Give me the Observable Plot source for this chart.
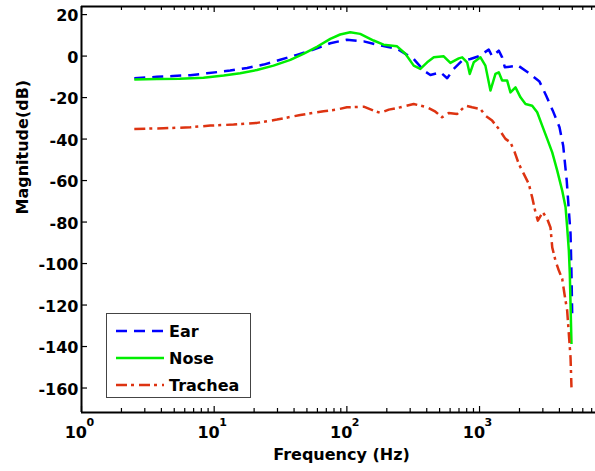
<!DOCTYPE html>
<html>
<head>
<meta charset="utf-8">
<script src="https://cdn.jsdelivr.net/npm/d3@7"></script>
<script src="https://cdn.jsdelivr.net/npm/@observablehq/plot@0.6"></script>
<style>
  html, body { margin: 0; padding: 0; background: #fff; }
  #wrap { position: relative; width: 595px; height: 471px; overflow: hidden; }
  #legend { position: absolute; left: 106px; top: 313px; width: 143px; height: 83px;
            border: 1.5px solid #444; background: #fff; }
  #legend text { font-family: "DejaVu Sans", sans-serif; font-weight: bold; font-size: 16px; }
</style>
</head>
<body>
<div id="wrap"></div>
<script>
// ---- data ----
const seriesNames = ["Ear", "Nose", "Trachea"];
const seriesColors = ["#0000ff", "#00ee00", "#dd3311"];
const seriesDash = ["11,7", null, "11,4,3,5"];

const earFreq = [2.5, 3.7, 4.9, 6.6, 8.8, 13.2, 17.7, 23.6, 31.5, 42, 56, 75, 100, 134, 179, 239, 319, 380, 426, 507, 570, 639, 739, 853, 986, 1173, 1244, 1396, 1480, 1550, 1810, 1923, 2307, 2830, 3180, 3565, 4005, 4270, 4540, 4710, 4850, 4930, 4990];
const earDb   = [-10.7, -10.0, -9.6, -9.2, -8.3, -7.0, -5.7, -4.1, -1.8, 0.6, 3.1, 6.2, 7.9, 7.1, 5.1, 3.5, -1.4, -7.0, -9.1, -7.8, -10.7, -6.2, -2.2, -1.4, -0.1, 3.1, -0.1, 2.6, -0.6, -5.4, -4.9, -4.3, -7.8, -12.3, -19.1, -26.3, -34.3, -43.2, -60, -74.5, -85.6, -104.9, -124];

const noseFreq = [2.5, 3.7, 5.5, 8.3, 11.8, 15.7, 21, 28, 37.5, 47, 60, 75, 89, 106, 126, 159, 189, 239, 276, 319, 358, 403, 452, 537, 603, 697, 740, 806, 844, 904, 1016, 1107, 1208, 1318, 1396, 1480, 1615, 1710, 1866, 2035, 2220, 2493, 2720, 2965, 3235, 3530, 3850, 4200, 4450, 4575, 4710, 4790, 4850, 4930];
const noseDb   = [-11.3, -11.0, -10.9, -10.4, -9.4, -8.3, -6.7, -4.6, -1.8, 1.1, 4.6, 8.3, 10.4, 11.5, 10.7, 7.5, 5.5, 4.7, 1.1, -4.6, -6.2, -3.0, -0.6, -0.1, -3.3, -1.1, -0.6, -3.0, -8.6, -3.0, -0.6, -4.6, -16.6, -8.6, -7.8, -11.8, -11.8, -17.5, -15.1, -19.9, -23.1, -23.9, -27.1, -33.5, -39.9, -46.4, -55.2, -64.9, -72.9, -82.6, -93.8, -105, -119.5, -138.8];

const tracheaFreq = [2.5, 4.15, 6.6, 9.35, 14, 21, 29.7, 44.6, 66.8, 84, 100, 134, 159, 179, 207, 253, 319, 403, 465, 522, 586, 678, 783, 879, 1016, 1107, 1244, 1396, 1567, 1710, 1842, 1977, 2155, 2350, 2493, 2640, 2750, 2997, 3235, 3425, 3530, 3735, 3960, 4200, 4365, 4575, 4710, 4850, 4930];
const tracheaDb   = [-35.1, -34.8, -34.3, -33.5, -33.0, -32.2, -30.6, -28.4, -26.6, -25.8, -24.7, -24.4, -26.3, -27.4, -25.8, -24.7, -23.1, -24.7, -26.8, -29.5, -27.4, -27.9, -23.9, -24.7, -25.5, -28.7, -31.1, -35.1, -39.9, -41.6, -46.4, -52.0, -56.8, -61.6, -68.1, -75.3, -79.3, -75.3, -78.5, -82.6, -92.2, -98.6, -103.4, -107.4, -114.7, -122.7, -134, -145.2, -159.7];

const xMajorTicks = [1, 10, 100, 1000];
const xMajorExponents = ["0", "1", "2", "3"];
const xMinorTicks = [2,3,4,5,6,7,8,9, 20,30,40,50,60,70,80,90, 200,300,400,500,600,700,800,900, 2000,3000,4000,5000,6000,7000];
const yTicks = [20, 0, -20, -40, -60, -80, -100, -120, -140, -160];

// ---- layout ----
const W = 595, H = 471;
const mL = 81, mT = 6, mB = 59, mR = 0;
const xDomain = [1, 7480];
const yDomain = [-171.8, 23.9];
const pxPerDb = (H - mT - mB) / (yDomain[1] - yDomain[0]);
const pxPerDecade = (W - mL - mR) / Math.log10(xDomain[1] / xDomain[0]);
const dyPx = px => px / pxPerDb;
const xMul = px => Math.pow(10, px / pxPerDecade);

const toRows = (f, v, name) => f.map((d, i) => ({f: d, db: v[i], name}));
const series = [
  toRows(earFreq, earDb, "Ear"),
  toRows(noseFreq, noseDb, "Nose"),
  toRows(tracheaFreq, tracheaDb, "Trachea")
];

const font = {fontFamily: "DejaVu Sans, sans-serif", fontWeight: "bold"};

const marks = [];
// ticks (inward)
marks.push(Plot.ruleX(xMajorTicks, {x: d => d, y1: yDomain[0], y2: yDomain[0] + dyPx(6), stroke: "black", strokeWidth: 1.2}));
marks.push(Plot.ruleX(xMinorTicks, {x: d => d, y1: yDomain[0], y2: yDomain[0] + dyPx(4), stroke: "black", strokeWidth: 1.2}));
marks.push(Plot.ruleX(xMajorTicks, {x: d => d, y1: yDomain[1], y2: yDomain[1] - dyPx(6), stroke: "black", strokeWidth: 1.2}));
marks.push(Plot.ruleX(xMinorTicks, {x: d => d, y1: yDomain[1], y2: yDomain[1] - dyPx(4), stroke: "black", strokeWidth: 1.2}));
marks.push(Plot.ruleY(yTicks, {y: d => d, x1: xDomain[0], x2: xDomain[0] * xMul(6), stroke: "black", strokeWidth: 1.2}));
// frame (left, top, bottom)
marks.push(Plot.ruleX([xDomain[0]], {stroke: "black", strokeWidth: 2}));
marks.push(Plot.ruleY([yDomain[0], yDomain[1]], {stroke: "black", strokeWidth: 2}));
// series
series.forEach((rows, i) => {
  marks.push(Plot.line(rows, {x: "f", y: "db", stroke: seriesColors[i], strokeWidth: 2.5,
    strokeDasharray: seriesDash[i] || undefined, strokeLinecap: "butt", strokeLinejoin: "round"}));
});
// y tick labels
marks.push(Plot.text(yTicks, {x: xDomain[0], y: d => d, text: d => String(d), textAnchor: "end", dx: -3, dy: 1.5, fontSize: 16, ...font}));
// x tick labels 10^n
marks.push(Plot.text(xMajorTicks, {x: d => d, frameAnchor: "bottom", text: () => "10", textAnchor: "end", dx: 5.5, dy: 25, fontSize: 16, ...font}));
marks.push(Plot.text(xMajorTicks, {x: d => d, frameAnchor: "bottom", text: (d, i) => xMajorExponents[i], textAnchor: "start", dx: 5, dy: 13, fontSize: 11, ...font}));
// axis titles
marks.push(Plot.text(["Frequency (Hz)"], {frameAnchor: "bottom", text: d => d, dx: 3, dy: 47, fontSize: 16, ...font}));
marks.push(Plot.text(["Magnitude(dB)"], {frameAnchor: "left", text: d => d, rotate: -90, dx: -59, dy: 5, fontSize: 16, ...font}));

const chart = Plot.plot({
  width: W, height: H,
  marginLeft: mL, marginTop: mT, marginBottom: mB, marginRight: mR,
  x: {type: "log", domain: xDomain, axis: null},
  y: {domain: yDomain, axis: null},
  style: {fontFamily: "DejaVu Sans, sans-serif", background: "#fff", overflow: "visible"},
  marks
});
const wrap = document.getElementById("wrap");
wrap.appendChild(chart);

// legend overlay
const ns = "http://www.w3.org/2000/svg";
const leg = document.createElement("div");
leg.id = "legend";
const lsvg = document.createElementNS(ns, "svg");
lsvg.setAttribute("width", 143); lsvg.setAttribute("height", 83);
const rowsY = [17, 44, 71];
seriesNames.forEach((name, i) => {
  const ln = document.createElementNS(ns, "line");
  ln.setAttribute("x1", 9); ln.setAttribute("x2", 57);
  ln.setAttribute("y1", rowsY[i]); ln.setAttribute("y2", rowsY[i]);
  ln.setAttribute("stroke", seriesColors[i]); ln.setAttribute("stroke-width", 2.5);
  if (seriesDash[i]) ln.setAttribute("stroke-dasharray", seriesDash[i]);
  lsvg.appendChild(ln);
  const t = document.createElementNS(ns, "text");
  t.setAttribute("x", 62); t.setAttribute("y", rowsY[i] + 6);
  t.textContent = name;
  lsvg.appendChild(t);
});
leg.appendChild(lsvg);
wrap.appendChild(leg);
</script>
</body>
</html>
